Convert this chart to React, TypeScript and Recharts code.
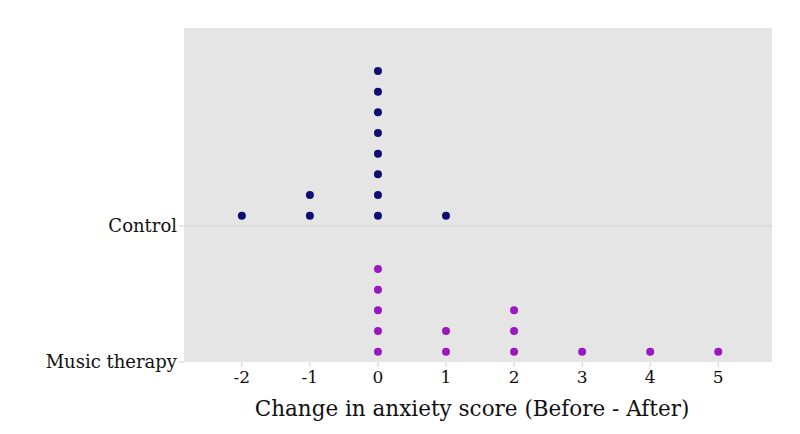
import React from "react";
import { ScatterChart, Scatter, XAxis, YAxis, CartesianGrid } from "recharts";

// raw scores, one entry per participant
const controlScores = [-2, -1, -1, 0, 0, 0, 0, 0, 0, 0, 0, 1];
const musicScores = [0, 0, 0, 0, 0, 1, 1, 2, 2, 2, 3, 4, 5];
const groups = ["Music therapy", "Control"];
const xTicks = [-2, -1, 0, 1, 2, 3, 4, 5];

const STEP = 0.152; // vertical stacking step, in y units

function stack(scores: number[], group: number) {
  const seen: Record<number, number> = {};
  return scores.map((s) => {
    const k = seen[s] ?? 0;
    seen[s] = k + 1;
    return { x: s, y: group + (k + 0.5) * STEP };
  });
}

const controlData = stack(controlScores, 1);
const musicData = stack(musicScores, 0);

const font = "'DejaVu Serif', serif";

const dot = (color: string) => (props: any) =>
  <circle cx={props.cx} cy={props.cy} r={4} fill={color} />;

export default function App() {
  return (
    <div style={{ position: "absolute", left: 0, top: 0, background: "#fff" }}>
      <ScatterChart width={800} height={434} margin={{ top: 28, right: 28, left: 0, bottom: 0 }}>
        <CartesianGrid vertical={false} fill="#e5e5e5" stroke="#d2d2d2" horizontalValues={[1]} />
        <XAxis
          type="number"
          dataKey="x"
          domain={[-2.85, 5.79]}
          ticks={xTicks}
          allowDataOverflow
          axisLine={false}
          tickLine={{ stroke: "#d0d0d0" }}
          tickSize={5}
          tickMargin={4}
          height={72}
          tick={{ fontSize: 17, fill: "#111", fontFamily: font }}
          label={{
            value: "Change in anxiety score (Before - After)",
            position: "insideBottom",
            offset: 18,
            dx: -6,
            style: { fontSize: 21.5, fill: "#111", fontFamily: font },
          }}
        />
        <YAxis
          type="number"
          dataKey="y"
          domain={[0, 2.456]}
          ticks={[0, 1]}
          allowDataOverflow
          width={184}
          axisLine={false}
          tickLine={{ stroke: "#d0d0d0" }}
          tickSize={5}
          tickFormatter={(v: number) => groups[v] ?? ""}
          tick={{ fontSize: 18, fill: "#111", fontFamily: font }}
        />
        <Scatter data={controlData} fill="#0e0e72" shape={dot("#0e0e72")} isAnimationActive={false} />
        <Scatter data={musicData} fill="#9a18c0" shape={dot("#9a18c0")} isAnimationActive={false} />
      </ScatterChart>
    </div>
  );
}
